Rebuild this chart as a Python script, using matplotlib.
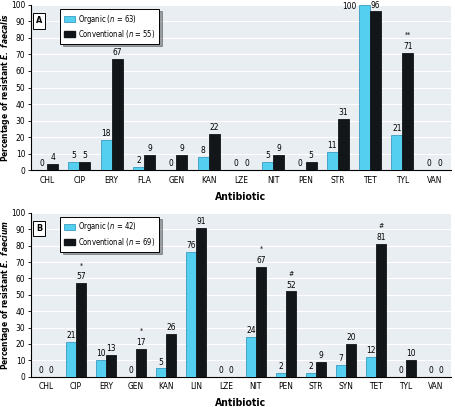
import matplotlib
matplotlib.use("Agg")
import matplotlib.pyplot as plt
import numpy as np

plt.rcParams['font.family'] = ['DejaVu Sans']
plt.rcParams['font.stretch'] = 'condensed'

# Panel A: E. faecalis
drugs_a = ['CHL', 'CIP', 'ERY', 'FLA', 'GEN', 'KAN', 'LZE', 'NIT', 'PEN', 'STR', 'TET', 'TYL', 'VAN']
org_a = [0, 5, 18, 2, 0, 8, 0, 5, 0, 11, 100, 21, 0]
conv_a = [4, 5, 67, 9, 9, 22, 0, 9, 5, 31, 96, 71, 0]
sig_a = {'ERY': '**', 'TYL': '**'}

# Panel B: E. faecium
drugs_b = ['CHL', 'CIP', 'ERY', 'GEN', 'KAN', 'LIN', 'LZE', 'NIT', 'PEN', 'STR', 'SYN', 'TET', 'TYL', 'VAN']
org_b = [0, 21, 10, 0, 5, 76, 0, 24, 2, 2, 7, 12, 0, 0]
conv_b = [0, 57, 13, 17, 26, 91, 0, 67, 52, 9, 20, 81, 10, 0]
sig_b = {'CIP': '*', 'GEN': '*', 'NIT': '*', 'PEN': '#', 'TET': '#'}

ORG = '#55cff0'
ORG_EDGE = '#3a9cc0'
CONV = '#121619'
BG = '#e9eef3'

fig = plt.figure(figsize=(4.55, 4.07), dpi=100)
ax_a = fig.add_axes([0.068, 0.582, 0.923, 0.406])
ax_b = fig.add_axes([0.068, 0.0745, 0.923, 0.4025])


def draw_panel(ax, drugs, org, conv, sig, letter, n_org, n_conv, species):
    x = np.arange(len(drugs))
    w = 0.34
    ax.set_facecolor(BG)
    ax.bar(x - w / 2, org, w, color=ORG, edgecolor=ORG_EDGE, linewidth=0.6, zorder=3)
    ax.bar(x + w / 2, conv, w, color=CONV, edgecolor=CONV, linewidth=0.6, zorder=3)
    for i in range(len(drugs)):
        if org[i] >= 100:
            ax.text(x[i] - w - 0.08, 96.5, str(org[i]), ha='right', va='bottom', fontsize=6)
        else:
            ax.text(x[i] - w / 2, org[i] + 1.2, str(org[i]), ha='center', va='bottom', fontsize=6)
        ax.text(x[i] + w / 2, conv[i] + 1.2, str(conv[i]), ha='center', va='bottom', fontsize=6,
                clip_on=False)
        if drugs[i] in sig:
            ax.text(x[i] + w / 2, conv[i] + 9, sig[drugs[i]], ha='center', va='bottom', fontsize=5)
    ax.set_xlim(-0.5, len(drugs) - 0.5)
    ax.set_ylim(0, 100)
    ax.set_yticks(range(0, 101, 10))
    ax.yaxis.grid(True, color='white', linewidth=0.8, zorder=0)
    ax.set_axisbelow(True)
    ax.set_xticks(x)
    ax.set_xticklabels(drugs)
    ax.tick_params(axis='both', labelsize=6, length=2, width=0.6, pad=2)
    ax.tick_params(axis='x', length=0, pad=4)
    for s in ['top', 'right']:
        ax.spines[s].set_visible(False)
    ax.spines['left'].set_linewidth(0.8)
    ax.spines['bottom'].set_linewidth(0.8)
    ax.set_xlabel('Antibiotic', fontsize=7.5, fontweight='bold', labelpad=5)
    ax.set_ylabel('Percentage of resistant $\\mathbfit{E.\\ ' + species + '}$',
                  fontsize=6, fontweight='bold')
    ax.yaxis.set_label_coords(-0.045, 0.5)
    # panel letter box
    ax.text(0.012, 0.93, letter, transform=ax.transAxes, ha='left', va='top', fontsize=6.5,
            fontweight='bold',
            bbox=dict(boxstyle='square,pad=0.35', facecolor='white', edgecolor='black', linewidth=0.7),
            zorder=6)
    h1 = plt.Rectangle((0, 0), 1, 1, facecolor=ORG, edgecolor=ORG_EDGE, linewidth=0.6)
    h2 = plt.Rectangle((0, 0), 1, 1, facecolor=CONV, edgecolor=CONV)
    leg = ax.legend([h1, h2], ['Organic ($n$ = %d)' % n_org, 'Conventional ($n$ = %d)' % n_conv],
                    loc='upper left', bbox_to_anchor=(0.06, 1.0), fontsize=5.5, frameon=True,
                    fancybox=False, shadow=True, edgecolor='black', handlelength=1.5,
                    handleheight=0.8, borderpad=0.5, labelspacing=0.3, handletextpad=0.4)
    leg.get_frame().set_linewidth(0.7)
    leg.set_zorder(6)


draw_panel(ax_a, drugs_a, org_a, conv_a, sig_a, 'A', 63, 55, 'faecalis')
draw_panel(ax_b, drugs_b, org_b, conv_b, sig_b, 'B', 42, 69, 'faecium')

fig.savefig('out.png', dpi=100)
